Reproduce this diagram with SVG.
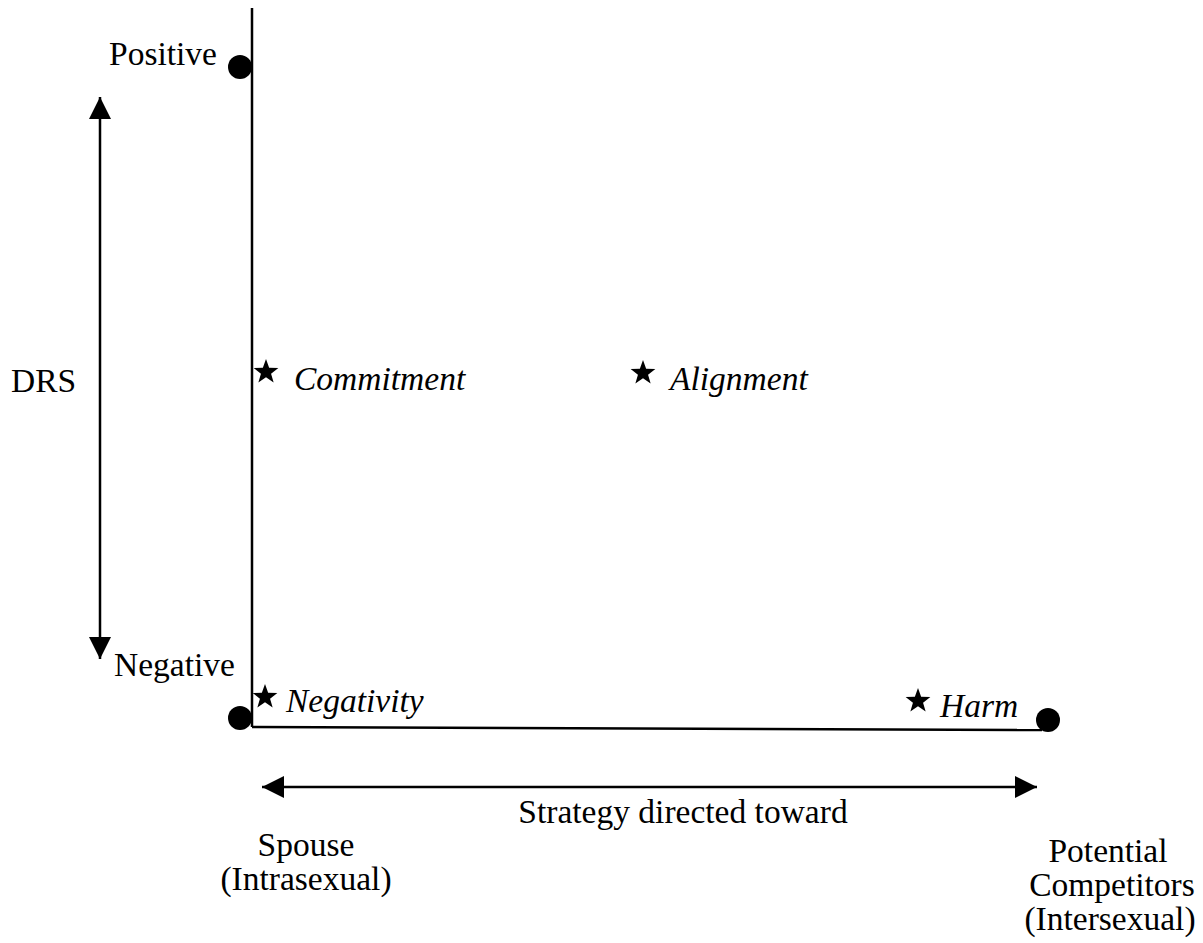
<svg xmlns="http://www.w3.org/2000/svg" xmlns:xlink="http://www.w3.org/1999/xlink" width="1203" height="943" viewBox="0 0 1203 943">
<style>
  .lbl { font-family: "Liberation Serif", "Times New Roman", serif; font-size: 33.5px; fill: #000; }
  .it { font-style: italic; }
  .ax { stroke: #000; stroke-width: 2.5; fill: none; }
  .dot { fill: #000; }
</style>
<defs>
  <path id="star" d="M0,-13 L3.13,-4.3 L12.36,-4.02 L5.06,1.64 L7.64,10.52 L0,5.32 L-7.64,10.52 L-5.06,1.64 L-12.36,-4.02 L-3.13,-4.3 Z" fill="#000"/>
  <marker id="ah2" viewBox="0 0 10 10" refX="10" refY="5" markerWidth="22" markerHeight="22" markerUnits="userSpaceOnUse" orient="auto-start-reverse">
    <path d="M0,0 L10,5 L0,10 Z" fill="#000"/>
  </marker>
</defs>
<rect width="1203" height="943" fill="#fff"/>
<g id="connectors">
  <line class="ax" x1="252" y1="8" x2="252" y2="727"/>
  <line class="ax" x1="252" y1="727" x2="1042" y2="730"/>
  <line class="ax" x1="100" y1="97" x2="100" y2="659" marker-start="url(#ah2)" marker-end="url(#ah2)"/>
  <line class="ax" x1="262" y1="787" x2="1037" y2="787" marker-start="url(#ah2)" marker-end="url(#ah2)"/>
</g>
<g id="positive">
  <circle class="dot" cx="240" cy="67" r="12"/>
  <text class="lbl" x="109" y="65">Positive</text>
</g>
<g id="negative">
  <circle class="dot" cx="240" cy="718" r="12"/>
  <text class="lbl" x="114" y="676">Negative</text>
</g>
<g id="drs">
  <text class="lbl" x="11" y="392">DRS</text>
</g>
<g id="commitment">
  <use xlink:href="#star" x="266" y="372"/>
  <text class="lbl it" x="294" y="390">Commitment</text>
</g>
<g id="alignment">
  <use xlink:href="#star" x="643" y="373"/>
  <text class="lbl it" x="670" y="390">Alignment</text>
</g>
<g id="negativity">
  <use xlink:href="#star" x="265" y="697"/>
  <text class="lbl it" x="286" y="712">Negativity</text>
</g>
<g id="harm">
  <use xlink:href="#star" x="918" y="701"/>
  <circle class="dot" cx="1048" cy="720" r="12"/>
  <text class="lbl it" x="940" y="717">Harm</text>
</g>
<g id="strategy">
  <text class="lbl" x="683" y="823" text-anchor="middle">Strategy directed toward</text>
</g>
<g id="spouse">
  <text class="lbl" x="306" y="856" text-anchor="middle">Spouse</text>
  <text class="lbl" x="306" y="890" text-anchor="middle">(Intrasexual)</text>
</g>
<g id="competitors">
  <text class="lbl" x="1108" y="862" text-anchor="middle">Potential</text>
  <text class="lbl" x="1112" y="896" text-anchor="middle">Competitors</text>
  <text class="lbl" x="1110" y="930" text-anchor="middle">(Intersexual)</text>
</g>
</svg>
